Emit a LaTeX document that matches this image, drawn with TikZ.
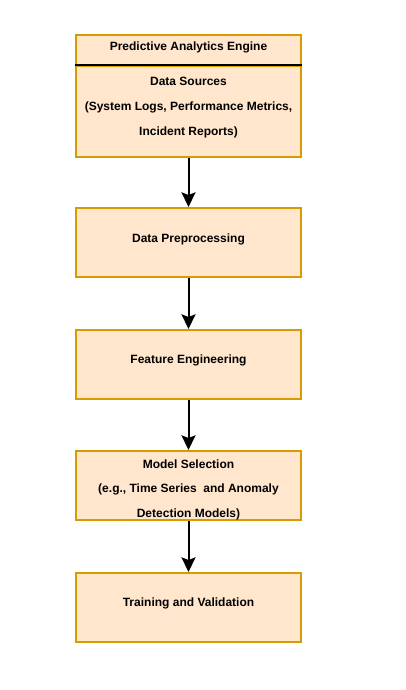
\documentclass[tikz,border=0pt]{standalone}
\usepackage{fontspec}
\setmainfont{Liberation Sans}
\usetikzlibrary{positioning,arrows.meta}
\definecolor{boxfill}{HTML}{FFE6CC}
\definecolor{boxline}{HTML}{D79B00}
\tikzset{
  stage/.style={draw=boxline, fill=boxfill, line width=1.5pt, minimum width=168.75pt,
    minimum height=51.75pt, align=center, inner sep=0pt, text height=0pt, text depth=0pt,
    font=\bfseries\fontsize{9}{18.4}\selectfont},
  flow/.style={-{Stealth[length=11pt,width=10.5pt,inset=2pt]}, line width=1.5pt}
}
\begin{document}
\begin{tikzpicture}[x=0.75pt,y=-0.75pt]
  \useasboundingbox (0,0) rectangle (405,690);
  % header and first stage
  \node[stage, minimum height=23.25pt] (engine) at (188.5,50.5) {Predictive Analytics Engine};
  \node[stage, minimum height=68.25pt, text height=35.25pt] (sources) at (188.5,111.5)
    {Data Sources\\(System Logs, Performance Metrics,\\Incident Reports)};
  \draw[line width=1.5pt] (sources.north west) -- (sources.north east);
  % remaining stages
  \node[stage] (prep) at (188.5,242.5) {Data Preprocessing};
  \node[stage, text depth=1.5pt] (features) at (188.5,364.5) {Feature Engineering};
  \node[stage, text height=48pt] (model) at (188.5,485.5)
    {Model Selection\\(e.g., Time Series\ \ and Anomaly\\Detection Models)};
  \node[stage, text depth=2.25pt] (training) at (188.5,607.5) {Training and Validation};
  % arrows
  \draw[flow] (sources) -- (prep);
  \draw[flow] (prep) -- (features);
  \draw[flow] (features) -- (model);
  \draw[flow] (model) -- (training);
\end{tikzpicture}
\end{document}
